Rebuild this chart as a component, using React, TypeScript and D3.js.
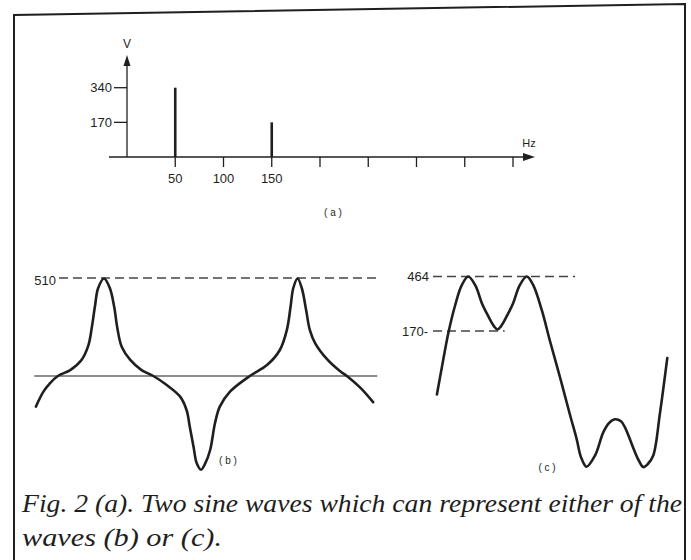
import React from 'react';
import * as d3 from 'd3';

const W = 691;
const H = 560;

// (a) line spectrum
const specFreq = [50, 150];
const specVolts = [340, 170];
const freqTicks = [50, 100, 150, 200, 250, 300, 350, 400];
const freqLabels = [50, 100, 150];
const voltTicks = [170, 340];

// (b) resulting wave, phase in degrees of the 50 Hz fundamental
const bPhase = [-37, -23, -11, 4, 27, 48, 61, 67, 73, 79, 90, 101, 109, 115, 123, 139, 160, 182, 207, 232, 244, 250, 257, 263, 271, 279, 288, 297, 306, 325, 362, 394, 418, 431, 438, 443, 451, 459, 467, 474, 484, 506, 530, 543, 568, 592];
const bVolts = [-160, -82, -38, 0, 31, 84, 162, 249, 362, 459, 510, 459, 362, 249, 153, 84, 31, 0, -47, -108, -178, -265, -370, -457, -490, -456, -387, -247, -160, -82, 0, 57, 136, 240, 362, 459, 510, 459, 345, 240, 171, 88, 26, 0, -61, -137];
const bLevel = 510;

// (c) other wave with the same two components
const cPhase = [-3, 4, 14.5, 25, 35, 45, 56, 66, 74, 80, 85, 90, 95, 100, 106, 114, 124, 135, 145, 158, 170.5, 186, 201, 211.5, 218, 226.6, 239.6, 252.3, 261, 270, 279.5, 285.6, 301, 307, 313.7, 321, 329, 339.4, 350.5];
const cVolts = [-172, -38, 158, 309, 416, 464, 416, 320, 262, 222, 194, 178, 194, 222, 262, 320, 416, 464, 416, 282, 116, -81, -279, -413, -509, -562, -502, -377, -327, -306, -317, -350, -484, -530, -564, -546, -502, -270, 24];
const cLevels = [464, 170];

const caption = [
  'Fig. 2 (a). Two sine waves which can represent either of the',
  'waves (b) or (c).',
];

const INK = '#1f1f1f';
const SANS = "'Liberation Sans', Arial, sans-serif";

export default function App() {
  // spectrum scales
  const sx = d3.scaleLinear().domain([0, 400]).range([127, 513]);
  const sy = d3.scaleLinear().domain([0, 340]).range([157, 87.7]);

  // wave (b) scales
  const bx = d3.scaleLinear().domain([0, 360]).range([55.75, 248.75]);
  const by = d3.scaleLinear().domain([0, 510]).range([376, 278.5]);

  // wave (c) scales
  const cx = d3.scaleLinear().domain([0, 180]).range([438.85, 556.15]);
  const cy = d3.scaleLinear().domain([170, 464]).range([331, 276.5]);

  const bPath = d3.line<[number, number]>()
    .curve(d3.curveCatmullRom.alpha(0.5))
    .x(d => bx(d[0])).y(d => by(d[1]))(bPhase.map((p, i) => [p, bVolts[i]]));
  const cPath = d3.line<[number, number]>()
    .curve(d3.curveCatmullRom.alpha(0.5))
    .x(d => cx(d[0])).y(d => cy(d[1]))(cPhase.map((p, i) => [p, cVolts[i]]));

  const y0 = sy(0);
  const yTop = sy(500);
  const xEnd = sx(400) + 22;

  return (
    <svg width={W} height={H} viewBox={`0 0 ${W} ${H}`}
      style={{ position: 'absolute', left: 0, top: 0, background: '#fff' }}>
      {/* border */}
      <path d="M14,560 L14,15 L685,4 L685,560" fill="none" stroke={INK} strokeWidth={2} />

      {/* (a) spectrum */}
      <g stroke={INK} fill="none" strokeWidth={1.3}>
        <line x1={sx(0) - 18} y1={y0} x2={xEnd - 6} y2={y0} />
        <line x1={sx(0)} y1={y0} x2={sx(0)} y2={yTop + 8} />
        {freqTicks.map(f => (
          <line key={f} x1={sx(f)} x2={sx(f)} y1={y0} y2={y0 + 10} />
        ))}
        {voltTicks.map(v => (
          <line key={v} x1={sx(0) - 13} x2={sx(0)} y1={sy(v)} y2={sy(v)} />
        ))}
      </g>
      <path d={`M${xEnd},${y0} L${xEnd - 12},${y0 - 4} L${xEnd - 12},${y0 + 4} Z`} fill={INK} />
      <path d={`M${sx(0)},${yTop} L${sx(0) - 3.5},${yTop + 11} L${sx(0) + 3.5},${yTop + 11} Z`} fill={INK} />
      {specFreq.map((f, i) => (
        <line key={f} x1={sx(f)} x2={sx(f)} y1={y0} y2={sy(specVolts[i])} stroke={INK} strokeWidth={2.6} />
      ))}
      <g fontFamily={SANS} fontSize={13} fill={INK}>
        {voltTicks.map(v => (
          <text key={v} x={sx(0) - 15} y={sy(v) + 4.5} textAnchor="end">{v}</text>
        ))}
        {freqLabels.map(f => (
          <text key={f} x={sx(f)} y={y0 + 26} textAnchor="middle">{f}</text>
        ))}
        <text x={sx(0)} y={48} textAnchor="middle" fontSize={12}>V</text>
        <text x={xEnd - 6} y={147} textAnchor="middle" fontSize={11}>Hz</text>
        <text x={333} y={216} textAnchor="middle" fontSize={10}>( a )</text>
      </g>

      {/* (b) */}
      <line x1={bx(-40)} x2={bx(600)} y1={by(0)} y2={by(0)} stroke={INK} strokeWidth={1.2} />
      <line x1={bx(6)} x2={bx(600)} y1={by(bLevel) - 0.5} y2={by(bLevel) - 0.5}
        stroke="#444" strokeWidth={1.3} strokeDasharray="9 5" />
      <path d={bPath ?? ''} fill="none" stroke={INK} strokeWidth={2.6} strokeLinecap="round" />
      <g fontFamily={SANS} fill={INK}>
        <text x={56} y={284.5} textAnchor="end" fontSize={13}>{bLevel}</text>
        <text x={228} y={464} textAnchor="middle" fontSize={10}>( b )</text>
      </g>

      {/* (c) */}
      {cLevels.map((v, i) => (
        <g key={v}>
          <line x1={cx(-9)} x2={cx(i === 0 ? 209 : 101)} y1={cy(v)} y2={cy(v)}
            stroke="#444" strokeWidth={1.3} strokeDasharray="9 5" />
          <text x={i === 0 ? 429 : 428} y={cy(v) + 4.5} textAnchor="end"
            fontFamily={SANS} fontSize={13} fill={INK}>{i === 0 ? v : `${v}-`}</text>
        </g>
      ))}
      <path d={cPath ?? ''} fill="none" stroke={INK} strokeWidth={2.6} strokeLinecap="round" />
      <text x={547} y={471} textAnchor="middle" fontFamily={SANS} fontSize={10} fill={INK}>( c )</text>

      {/* caption */}
      <g fontFamily="'Liberation Serif', 'Times New Roman', serif" fontStyle="italic" fontSize={26} fill="#1e1e1e">
        <text x={22} y={512} textLength={660} lengthAdjust="spacingAndGlyphs">{caption[0]}</text>
        <text x={22} y={546} textLength={200} lengthAdjust="spacingAndGlyphs">{caption[1]}</text>
      </g>
    </svg>
  );
}
